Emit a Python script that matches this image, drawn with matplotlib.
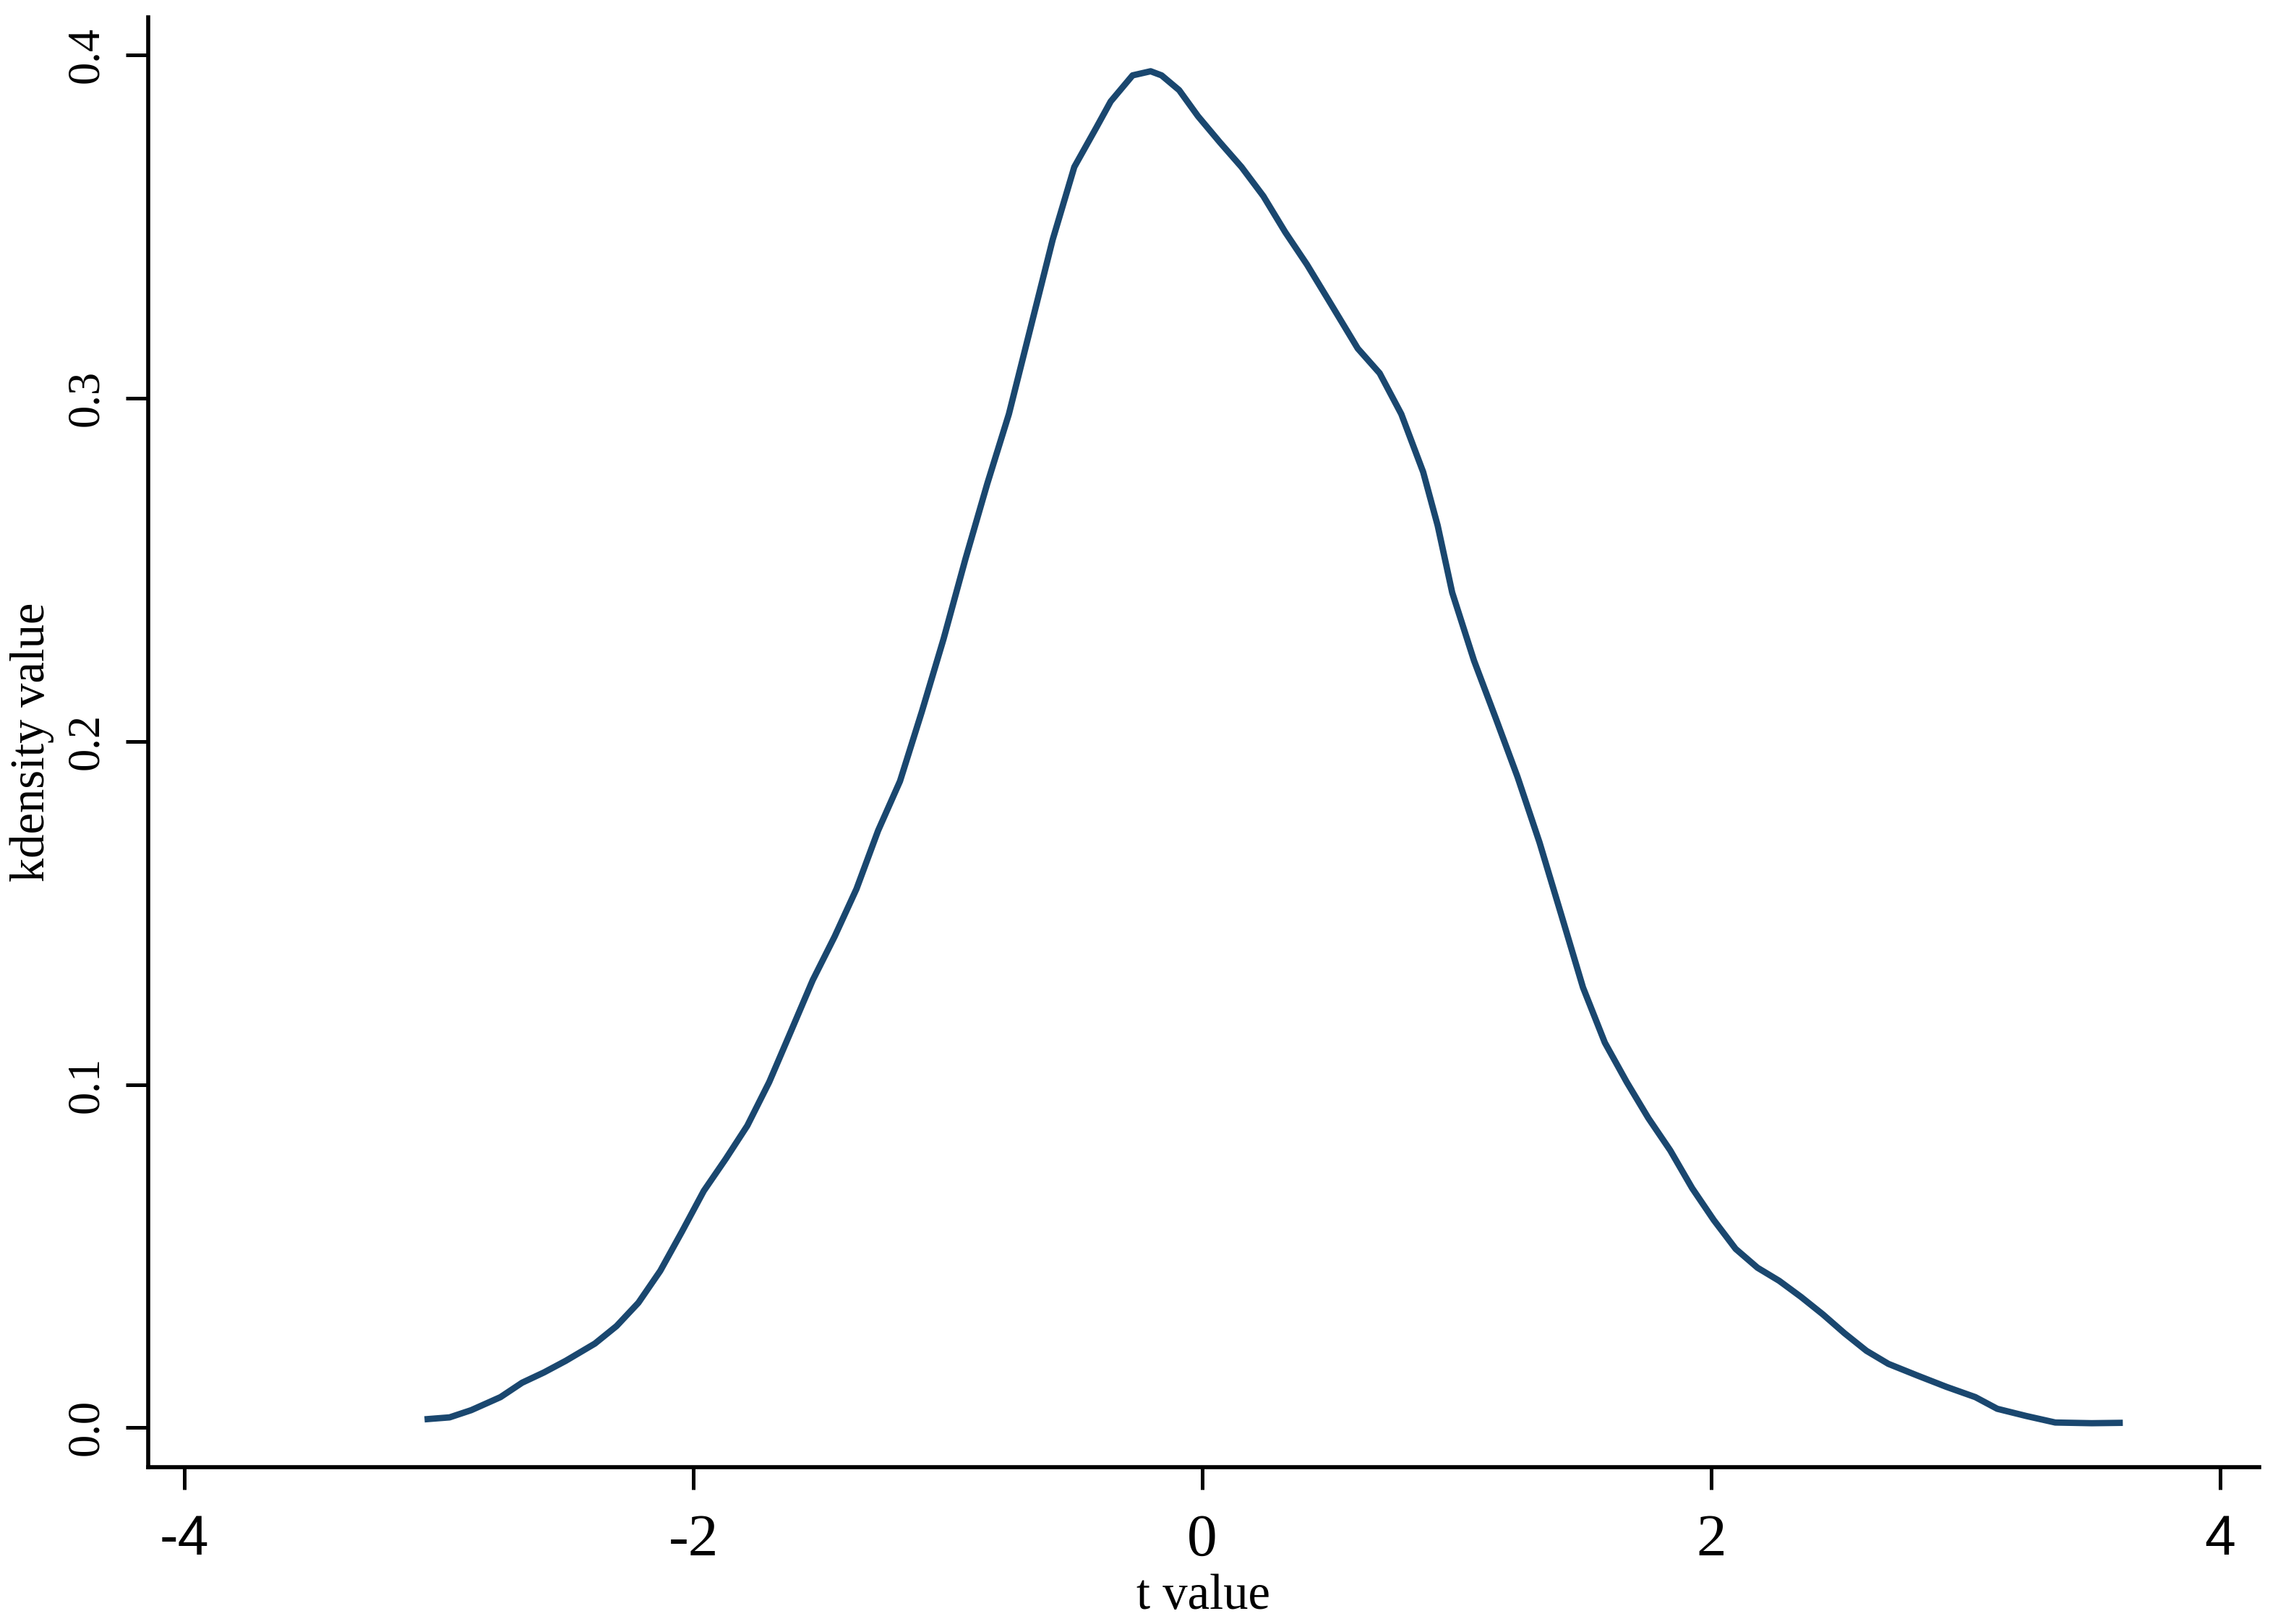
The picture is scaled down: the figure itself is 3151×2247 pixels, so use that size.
import numpy as np
import matplotlib.pyplot as plt

# kernel density of t values
t_vals = [-3.044, -2.958, -2.873, -2.758, -2.673, -2.587, -2.501, -2.387, -2.302, -2.216,
          -2.130, -2.045, -1.959, -1.873, -1.788, -1.702, -1.616, -1.531, -1.445, -1.359,
          -1.274, -1.188, -1.102, -1.017, -0.931, -0.845, -0.760, -0.674, -0.588, -0.503,
          -0.417, -0.360, -0.274, -0.203, -0.160, -0.091, -0.017, 0.069, 0.154, 0.240,
          0.326, 0.411, 0.497, 0.611, 0.697, 0.782, 0.868, 0.925, 0.982, 1.068,
          1.154, 1.239, 1.325, 1.411, 1.496, 1.582, 1.668, 1.753, 1.839, 1.925,
          2.010, 2.096, 2.182, 2.267, 2.353, 2.439, 2.524, 2.610, 2.696, 2.810,
          2.924, 3.038, 3.124, 3.238, 3.352, 3.495, 3.605]
density = [0.0025, 0.0030, 0.0051, 0.0089, 0.0131, 0.0161, 0.0195, 0.0245, 0.0296, 0.0364,
           0.0457, 0.0571, 0.0690, 0.0783, 0.0880, 0.1007, 0.1156, 0.1304, 0.1431, 0.1570,
           0.1740, 0.1884, 0.2087, 0.2298, 0.2531, 0.2751, 0.2954, 0.3208, 0.3462, 0.3674,
           0.3788, 0.3865, 0.3941, 0.3953, 0.3941, 0.3898, 0.3822, 0.3746, 0.3674, 0.3589,
           0.3484, 0.3390, 0.3285, 0.3145, 0.3073, 0.2954, 0.2785, 0.2629, 0.2434, 0.2235,
           0.2066, 0.1896, 0.1706, 0.1494, 0.1283, 0.1122, 0.1007, 0.0902, 0.0808, 0.0698,
           0.0605, 0.0521, 0.0466, 0.0428, 0.0381, 0.0330, 0.0275, 0.0224, 0.0186, 0.0152,
           0.0119, 0.0089, 0.0055, 0.0034, 0.0015, 0.0013, 0.0014]

x_ticks = [-4, -2, 0, 2, 4]
x_labels = ['-4', '-2', '0', '2', '4']
y_ticks = [0.0, 0.1, 0.2, 0.3, 0.4]
y_labels = ['0.0', '0.1', '0.2', '0.3', '0.4']

plt.rcParams['font.family'] = 'Liberation Serif'

fig = plt.figure(figsize=(3151 / 300, 2247 / 300), dpi=300)
ax = fig.add_axes([0.0651, 0.0966, 0.9266, 0.8927])

ax.plot(t_vals, density, color='#1a476f', lw=2.1, solid_joinstyle='round')

ax.set_xlim(-4.142, 4.153)
ax.set_ylim(-0.0115, 0.411)

ax.spines['top'].set_visible(False)
ax.spines['right'].set_visible(False)
for s in ['left', 'bottom']:
    ax.spines[s].set_linewidth(1.35)

ax.set_xticks(x_ticks)
ax.set_xticklabels(x_labels, fontsize=20)
ax.set_yticks(y_ticks)
ax.set_yticklabels(y_labels, fontsize=15, rotation=90, va='center')
ax.tick_params(axis='both', length=7.4, width=1.2, direction='out')
ax.tick_params(axis='x', pad=8)
ax.tick_params(axis='y', pad=6)

# the outer tick labels come out in a sans face in the original
for lab in ax.get_xticklabels():
    if lab.get_text() in ('-4', '4'):
        lab.set_fontfamily('Liberation Sans')
        lab.set_fontsize(18.5)

ax.set_xlabel('t value', fontsize=16.5, labelpad=2)
ax.set_ylabel('kdensity value', fontsize=16, labelpad=4)

fig.savefig('out.png', dpi=300, facecolor='white')
